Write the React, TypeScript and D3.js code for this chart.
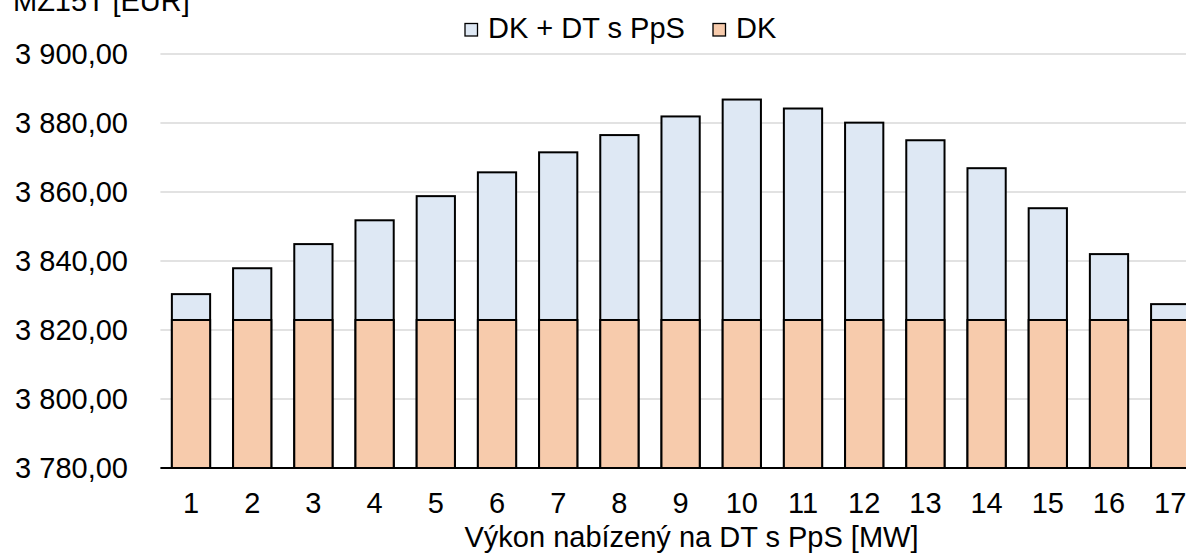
import React, { useEffect, useRef } from 'react';
import * as d3 from 'd3';

// categories (offered power, MW)
const categories: string[] = ['1', '2', '3', '4', '5', '6', '7', '8', '9', '10', '11', '12', '13', '14', '15', '16', '17'];

// DK + DT s PpS
const totalValues: number[] = [3830.4, 3837.9, 3844.9, 3851.8, 3858.8, 3865.7, 3871.5, 3876.5, 3881.9, 3886.8, 3884.2, 3880.1, 3875.0, 3866.9, 3855.3, 3842.0, 3827.5];

// DK
const dkValues: number[] = [3822.9, 3822.9, 3822.9, 3822.9, 3822.9, 3822.9, 3822.9, 3822.9, 3822.9, 3822.9, 3822.9, 3822.9, 3822.9, 3822.9, 3822.9, 3822.9, 3822.9];

const yTicks: number[] = [3780, 3800, 3820, 3840, 3860, 3880, 3900];

const seriesNames: string[] = ['DK + DT s PpS', 'DK'];
const seriesColors: string[] = ['#dee8f4', '#f7cbac'];

const yTitle = 'MZ15T [EUR]';
const xTitle = 'Výkon nabízený na DT s PpS [MW]';

function App() {
  const ref = useRef<SVGSVGElement>(null);

  useEffect(() => {
    const font = '"Liberation Sans", Arial, sans-serif';
    const fs = 29;

    const svg = d3.select(ref.current);
    svg.selectAll('*').remove();

    // plot area runs past the right edge, like the cropped original
    const x = d3.scaleBand()
      .domain(categories)
      .range([160.4, 1200.8])
      .paddingInner(0.375)
      .paddingOuter(0.1875);

    const y = d3.scaleLinear()
      .domain([3780, 3900])
      .range([468, 54]);

    const fmt = d3.formatLocale({ decimal: ',', thousands: ' ', grouping: [3], currency: ['', ''] }).format(',.2f');

    // gridlines
    svg.append('g')
      .selectAll('line')
      .data(yTicks.slice(1))
      .join('line')
        .attr('x1', 160.4)
        .attr('x2', 1200.8)
        .attr('y1', d => y(d))
        .attr('y2', d => y(d))
        .attr('stroke', '#d9d9d9')
        .attr('stroke-width', 1.5);

    // y tick labels
    svg.append('g')
      .selectAll('text')
      .data(yTicks)
      .join('text')
        .attr('x', 128)
        .attr('y', d => y(d) + 10)
        .attr('text-anchor', 'end')
        .attr('font-family', font)
        .attr('font-size', fs)
        .attr('fill', '#000')
        .text(d => fmt(d));

    // total bars (behind)
    svg.append('g')
      .selectAll('rect')
      .data(categories)
      .join('rect')
        .attr('x', d => x(d)!)
        .attr('y', (d, i) => y(totalValues[i]))
        .attr('width', x.bandwidth())
        .attr('height', (d, i) => y(3780) - y(totalValues[i]))
        .attr('fill', seriesColors[0])
        .attr('stroke', '#000')
        .attr('stroke-width', 2);

    // DK bars (front)
    svg.append('g')
      .selectAll('rect')
      .data(categories)
      .join('rect')
        .attr('x', d => x(d)!)
        .attr('y', (d, i) => y(dkValues[i]))
        .attr('width', x.bandwidth())
        .attr('height', (d, i) => y(3780) - y(dkValues[i]))
        .attr('fill', seriesColors[1])
        .attr('stroke', '#000')
        .attr('stroke-width', 2);

    // x axis line
    svg.append('line')
      .attr('x1', 160.4)
      .attr('x2', 1200.8)
      .attr('y1', y(3780))
      .attr('y2', y(3780))
      .attr('stroke', '#000')
      .attr('stroke-width', 1.8);

    // x tick labels
    svg.append('g')
      .selectAll('text')
      .data(categories)
      .join('text')
        .attr('x', d => x(d)! + x.bandwidth() / 2)
        .attr('y', 513)
        .attr('text-anchor', 'middle')
        .attr('font-family', font)
        .attr('font-size', fs)
        .attr('fill', '#000')
        .text(d => d);

    // axis titles
    svg.append('text')
      .attr('x', 691.5)
      .attr('y', 547)
      .attr('text-anchor', 'middle')
      .attr('font-family', font)
      .attr('font-size', fs)
      .attr('fill', '#000')
      .text(xTitle);

    svg.append('text')
      .attr('x', 13)
      .attr('y', 11)
      .attr('font-family', font)
      .attr('font-size', fs)
      .attr('fill', '#000')
      .text(yTitle);

    // legend
    const legendX = [465, 713];
    const legend = svg.append('g');
    seriesNames.forEach((name, i) => {
      legend.append('rect')
        .attr('x', legendX[i])
        .attr('y', 23.5)
        .attr('width', 12.5)
        .attr('height', 12.5)
        .attr('fill', seriesColors[i])
        .attr('stroke', '#000')
        .attr('stroke-width', 1.3);
      legend.append('text')
        .attr('x', legendX[i] + 23)
        .attr('y', 37.5)
        .attr('font-family', font)
        .attr('font-size', fs)
        .attr('fill', '#000')
        .text(name);
    });
  }, []);

  return (
    <svg
      ref={ref}
      width={1186}
      height={554}
      style={{ position: 'absolute', left: 0, top: 0, background: '#fff' }}
    ></svg>
  );
}

export default App;
